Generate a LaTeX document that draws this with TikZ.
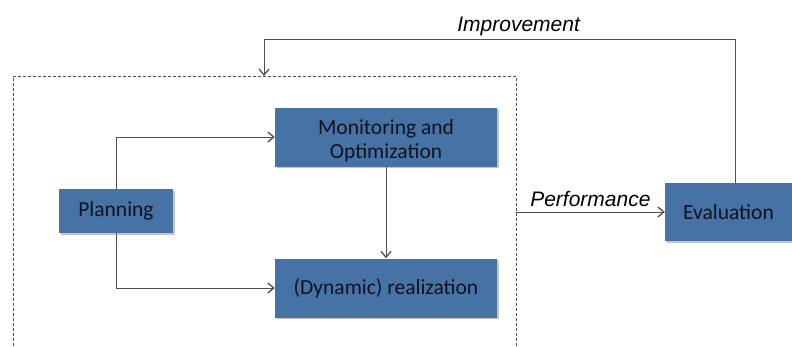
\documentclass[tikz,border=0pt]{standalone}
\usepackage{fontspec}
\setmainfont{Carlito}
\newfontfamily\labelfont{Liberation Sans}
\usetikzlibrary{arrows.meta,shadows}
\definecolor{boxblue}{RGB}{70,114,165}
\definecolor{boxtext}{RGB}{15,18,28}
\definecolor{linegray}{RGB}{80,80,80}
\tikzset{
  stage/.style={rectangle,fill=boxblue,text=boxtext,align=center,inner sep=0pt,
    font=\fontsize{21.5}{24.5}\selectfont,
    drop shadow={shadow xshift=1.5pt,shadow yshift=-1.5pt,fill=black!45,opacity=.5}},
  conn/.style={draw=linegray,line width=.9pt,-{Straight Barb[length=6pt,width=10pt,line width=1.3pt]}},
  flowlabel/.style={font=\labelfont\itshape\fontsize{21}{25}\selectfont,text=black}
}
\begin{document}
\begin{tikzpicture}[x=1pt,y=-1pt]
  \useasboundingbox (0,0) rectangle (792,346);
  % dashed frame round the process
  \draw[linegray,line width=.7pt,dash pattern=on 3pt off 2pt] (13,346) -- (13,76) -- (516,76) -- (516,346);
  \coordinate (imp) at (264,76);
  \coordinate (perf) at (516,212);

  \node[stage,minimum width=114pt,minimum height=44pt] (plan) at (116,211) {Planning};
  \node[stage,minimum width=222pt,minimum height=59pt] (mon) at (386,137)
    {\raisebox{-9pt}[0pt][0pt]{\parbox{200pt}{\centering Monitoring and\\Optimization}}};
  \node[stage,minimum width=222pt,minimum height=59pt] (dyn) at (386,288) {(Dynamic) realization};
  \node[stage,minimum width=127pt,minimum height=58pt] (eval) at (728.5,212) {Evaluation};

  \draw[conn] (plan.north) |- (mon.west);
  \draw[conn] (plan.south) |- (dyn.west);
  \draw[conn] (mon.south) -- (dyn.north);
  \draw[conn] (perf) -- (eval.west) node[flowlabel,midway,above,inner sep=5pt] {Performance};
  \draw[conn] ([xshift=7pt]eval.north) |- ([yshift=37pt]imp)
    node[flowlabel,pos=.73,above,inner sep=3pt] {Improvement} -- (imp);
\end{tikzpicture}
\end{document}
